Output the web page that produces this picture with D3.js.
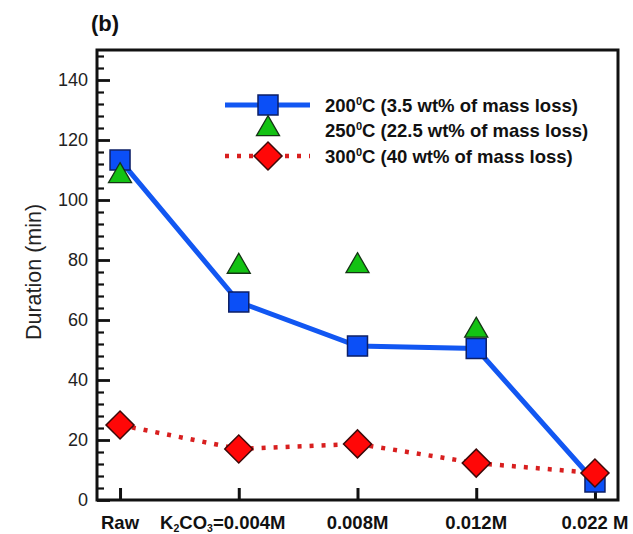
<!DOCTYPE html>
<html>
<head>
<meta charset="utf-8">
<script src="https://cdn.jsdelivr.net/npm/d3@7"></script>
<style>
  html, body { margin: 0; padding: 0; background: #fff; }
  svg { display: block; font-family: "Liberation Sans", Arial, sans-serif; }
</style>
</head>
<body>
<svg id="chart" width="633" height="534"></svg>
<script>
// Treatment conditions along the x axis
const categories = ["Raw", "K2CO3=0.004M", "0.008M", "0.012M", "0.022 M"];

// Duration (min) for each torrefaction temperature
const series200 = [113.3, 66, 51.3, 50.5, 6];
const series250 = [108, 77.8, 78, 56.5, null];
const series300 = [25, 17, 18.7, 12.3, 9];

// Legend labels: [temperature, superscript, rest]
const legendLabels = [
  ["200", "0", "C (3.5 wt% of mass loss)"],
  ["250", "0", "C (22.5 wt% of mass loss)"],
  ["300", "0", "C (40 wt% of mass loss)"]
];

const yMajorTicks = [0, 20, 40, 60, 80, 100, 120, 140];
const yMinorTicks = d3.range(0, 151, 4).filter(v => v % 20 !== 0);

const svg = d3.select("#chart");
const plot = { left: 97, right: 618, top: 50, bottom: 500 };

const x = d3.scalePoint()
  .domain(categories)
  .range([plot.left, plot.right])
  .padding(0.194);

const y = d3.scaleLinear()
  .domain([0, 150])
  .range([plot.bottom, plot.top]);

const blue = "#1257f2", blueFill = "#0b4ff7", blueStroke = "#0d1f66";
const green = "#13c213", greenStroke = "#143414";
const red = "#d81f1f", redFill = "#ff0707", redStroke = "#3d0a0a";

// Panel label
svg.append("text")
  .attr("x", 91).attr("y", 31)
  .attr("font-size", 22).attr("font-weight", "bold").attr("fill", "#111")
  .text("(b)");

// Y-axis title
svg.append("text")
  .attr("transform", "translate(41,272) rotate(-90)")
  .attr("text-anchor", "middle")
  .attr("font-size", 21.5).attr("fill", "#222")
  .text("Duration (min)");

// Minor y ticks (inward)
const yMinor = svg.append("g")
  .attr("transform", `translate(${plot.left},0)`)
  .call(d3.axisLeft(y).tickValues(yMinorTicks).tickSize(-7).tickFormat(""));
yMinor.select(".domain").remove();
yMinor.selectAll(".tick line").attr("stroke", "#111").attr("stroke-width", 2.2);

// Major y ticks and labels
const yMajor = svg.append("g")
  .attr("transform", `translate(${plot.left},0)`)
  .call(d3.axisLeft(y).tickValues(yMajorTicks).tickSize(-13).tickPadding(9));
yMajor.select(".domain").remove();
yMajor.selectAll(".tick line").attr("stroke", "#111").attr("stroke-width", 2.8);
yMajor.selectAll(".tick text")
  .attr("font-size", 18).attr("fill", "#222")
  .attr("font-family", "'Liberation Sans', Arial, sans-serif");

// X ticks (inward from the bottom)
const xAxis = svg.append("g")
  .attr("transform", `translate(0,${plot.bottom})`)
  .call(d3.axisBottom(x).tickSize(-12).tickFormat(""));
xAxis.select(".domain").remove();
xAxis.selectAll(".tick line").attr("stroke", "#111").attr("stroke-width", 3);

// X category labels, with chemical-formula digits set as subscripts
const xLabelOffset = { "K2CO3=0.004M": -16 };
const xLabels = svg.append("g").selectAll("text")
  .data(categories)
  .join("text")
  .attr("x", d => x(d) + (xLabelOffset[d] || 0))
  .attr("y", 529)
  .attr("text-anchor", "middle")
  .attr("font-size", 18.5).attr("font-weight", "bold").attr("fill", "#111");
xLabels.each(function (d) {
  const t = d3.select(this);
  const parts = d.split(/(?<=[A-Z])(\d)/);
  parts.forEach((p, i) => {
    if (!p) return;
    const isSub = i % 2 === 1;
    const s = t.append("tspan").text(p);
    if (isSub) s.attr("font-size", 10.5).attr("dy", 3);
    else if (i > 0 && parts[i - 1] && (i - 1) % 2 === 1) s.attr("dy", -3);
  });
});

// Plot frame
svg.append("rect")
  .attr("x", plot.left).attr("y", plot.top)
  .attr("width", plot.right - plot.left)
  .attr("height", plot.bottom - plot.top)
  .attr("fill", "none").attr("stroke", "#111").attr("stroke-width", 3);

const idx = categories.map((c, i) => i);

// 200 °C line
svg.append("path")
  .datum(idx)
  .attr("fill", "none").attr("stroke", blue).attr("stroke-width", 5)
  .attr("d", d3.line().x(i => x(categories[i])).y(i => y(series200[i])));

// 300 °C dotted line
svg.append("path")
  .datum(idx)
  .attr("fill", "none").attr("stroke", red).attr("stroke-width", 4.5)
  .attr("stroke-dasharray", "4,8")
  .attr("d", d3.line().x(i => x(categories[i])).y(i => y(series300[i])));

const squareSym = d3.symbol(d3.symbolSquare, 400);
const triSym = d3.symbol(d3.symbolTriangle, 230);
const diaSym = d3.symbol(d3.symbolSquare, 392);

// 200 °C squares
svg.append("g").selectAll("path")
  .data(idx.filter(i => series200[i] != null))
  .join("path")
  .attr("d", squareSym)
  .attr("transform", i => `translate(${x(categories[i])},${y(series200[i])})`)
  .attr("fill", blueFill).attr("stroke", blueStroke).attr("stroke-width", 1.5);

// 250 °C triangles
svg.append("g").selectAll("path")
  .data(idx.filter(i => series250[i] != null))
  .join("path")
  .attr("d", triSym)
  .attr("transform", i => `translate(${x(categories[i])},${y(series250[i])})`)
  .attr("fill", green).attr("stroke", greenStroke).attr("stroke-width", 1.3);

// 300 °C diamonds
svg.append("g").selectAll("path")
  .data(idx.filter(i => series300[i] != null))
  .join("path")
  .attr("d", diaSym)
  .attr("transform", i => `translate(${x(categories[i])},${y(series300[i])}) rotate(45)`)
  .attr("fill", redFill).attr("stroke", redStroke).attr("stroke-width", 1.5);

// Legend
const legend = svg.append("g");
const rows = [105, 130, 156];
const lx0 = 225, lx1 = 310, lxm = 268;

legend.append("line")
  .attr("x1", lx0).attr("x2", lx1).attr("y1", rows[0]).attr("y2", rows[0])
  .attr("stroke", blue).attr("stroke-width", 5);
legend.append("path").attr("d", squareSym)
  .attr("transform", `translate(${lxm},${rows[0]})`)
  .attr("fill", blueFill).attr("stroke", blueStroke).attr("stroke-width", 1.5);

legend.append("path").attr("d", triSym)
  .attr("transform", `translate(${lxm},${rows[1] - 1})`)
  .attr("fill", green).attr("stroke", greenStroke).attr("stroke-width", 1.3);

legend.append("line")
  .attr("x1", lx0).attr("x2", lx1).attr("y1", rows[2]).attr("y2", rows[2])
  .attr("stroke", red).attr("stroke-width", 4.5).attr("stroke-dasharray", "4,8");
legend.append("path").attr("d", diaSym)
  .attr("transform", `translate(${lxm},${rows[2]}) rotate(45)`)
  .attr("fill", redFill).attr("stroke", redStroke).attr("stroke-width", 1.5);

legendLabels.forEach((lab, i) => {
  const t = legend.append("text")
    .attr("x", 325).attr("y", rows[i] + 7)
    .attr("font-size", 18.5).attr("font-weight", "bold").attr("fill", "#111");
  t.append("tspan").text(lab[0]);
  t.append("tspan").attr("font-size", 11).attr("dy", -7).text(lab[1]);
  t.append("tspan").attr("dy", 7).text(lab[2]);
});
</script>
</body>
</html>
